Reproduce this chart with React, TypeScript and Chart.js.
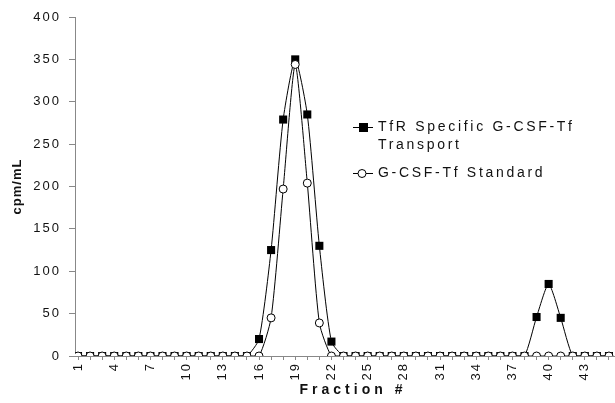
import React, { useEffect, useRef } from "react";
import { Chart, registerables } from "chart.js";

Chart.register(...registerables);

const fractions = [
  1, 2, 3, 4, 5, 6, 7, 8, 9, 10, 11, 12, 13, 14, 15, 16, 17, 18, 19, 20, 21, 22, 23,
  24, 25, 26, 27, 28, 29, 30, 31, 32, 33, 34, 35, 36, 37, 38, 39, 40, 41, 42, 43, 44, 45,
];

const tfrTransport = [
  0, 0, 0, 0, 0, 0, 0, 0, 0, 0, 0, 0, 0, 0, 0, 20, 125, 279, 350, 285, 130, 17, 0,
  0, 0, 0, 0, 0, 0, 0, 0, 0, 0, 0, 0, 0, 0, 0, 46, 85, 45, 0, 0, 0, 0,
];

const gcsfStandard = [
  0, 0, 0, 0, 0, 0, 0, 0, 0, 0, 0, 0, 0, 0, 0, 0, 45, 197, 344, 204, 39, 0, 0,
  0, 0, 0, 0, 0, 0, 0, 0, 0, 0, 0, 0, 0, 0, 0, 0, 0, 0, 0, 0, 0, 0,
];

const xTickLabels = [1, 4, 7, 10, 13, 16, 19, 22, 25, 28, 31, 34, 37, 40, 43];

const legendLabels = ["TfR Specific G-CSF-Tf", "Transport", "G-CSF-Tf Standard"];
const xTitle = "Fraction #";
const yTitle = "cpm/mL";

const FONT = '"Liberation Sans", Arial, Helvetica, sans-serif';

const overlayPlugin = {
  id: "overlay",
  beforeLayout(chart: any) {
    (chart.ctx as any).letterSpacing = "2px";
  },
  beforeDraw(chart: any) {
    (chart.ctx as any).letterSpacing = "2px";
  },
  afterDraw(chart: any) {
    const ctx = chart.ctx as CanvasRenderingContext2D & { letterSpacing: string };
    const area = chart.chartArea;
    ctx.save();
    ctx.fillStyle = "#111";
    ctx.textBaseline = "middle";

    // x title
    ctx.font = `bold 14px ${FONT}`;
    ctx.letterSpacing = "4px";
    ctx.textAlign = "center";
    ctx.fillText(xTitle, (area.left + area.right) / 2 + 8, 390);

    // y title
    ctx.save();
    ctx.translate(17, (area.top + area.bottom) / 2);
    ctx.rotate(-Math.PI / 2);
    ctx.font = `bold 13px ${FONT}`;
    ctx.letterSpacing = "1px";
    ctx.fillText(yTitle, 0, 0);
    ctx.restore();

    // legend
    ctx.font = `14px ${FONT}`;
    ctx.letterSpacing = "2.7px";
    ctx.textAlign = "left";
    ctx.strokeStyle = "#000";
    ctx.lineWidth = 1;

    const y1 = 127;
    ctx.beginPath();
    ctx.moveTo(353, y1 + 0.5);
    ctx.lineTo(373, y1 + 0.5);
    ctx.stroke();
    ctx.fillStyle = "#000";
    ctx.fillRect(359, y1 - 4, 9, 9);
    ctx.fillStyle = "#111";
    ctx.fillText(legendLabels[0], 378, y1);
    ctx.fillText(legendLabels[1], 378, 145);

    const y2 = 173;
    ctx.beginPath();
    ctx.moveTo(353, y2 + 0.5);
    ctx.lineTo(373, y2 + 0.5);
    ctx.stroke();
    ctx.beginPath();
    ctx.arc(362, y2 + 0.5, 4, 0, Math.PI * 2);
    ctx.fillStyle = "#fff";
    ctx.fill();
    ctx.stroke();
    ctx.fillStyle = "#111";
    ctx.fillText(legendLabels[2], 378, y2);

    ctx.restore();
  },
};

export default function App() {
  const canvasRef = useRef<HTMLCanvasElement | null>(null);

  useEffect(() => {
    document.body.style.margin = "0";
    const canvas = canvasRef.current;
    if (!canvas) return;

    const chart = new Chart(canvas, {
      type: "line",
      data: {
        datasets: [
          {
            label: legendLabels[0] + " " + legendLabels[1],
            data: fractions.map((f, i) => ({ x: f, y: tfrTransport[i] })),
            borderColor: "#000",
            borderWidth: 1,
            backgroundColor: "#000",
            pointStyle: "rect",
            pointRadius: 5.7,
            pointBorderWidth: 0,
            pointBackgroundColor: "#000",
            tension: 0.2,
            order: 2,
          },
          {
            label: legendLabels[2],
            data: fractions.map((f, i) => ({ x: f, y: gcsfStandard[i] })),
            borderColor: "#000",
            borderWidth: 1,
            pointStyle: "circle",
            pointRadius: 4,
            pointBorderWidth: 1,
            pointBorderColor: "#000",
            pointBackgroundColor: "#fff",
            tension: 0.2,
            order: 1,
          },
        ],
      },
      options: {
        responsive: false,
        animation: false,
        devicePixelRatio: 1,
        layout: { autoPadding: false, padding: { top: 17, right: 0, left: 0, bottom: 0 } },
        plugins: {
          legend: { display: false },
          tooltip: { enabled: false },
        },
        scales: {
          x: {
            type: "linear",
            min: 0.75,
            max: 45.5,
            afterBuildTicks: (scale: any) => {
              scale.ticks = fractions.map((v) => ({ value: v }));
            },
            afterFit: (scale: any) => {
              scale.height = 47;
              scale.paddingLeft = 0;
              scale.paddingRight = 0;
            },
            grid: {
              display: true,
              drawOnChartArea: false,
              tickLength: 4,
              color: "#888",
            },
            border: { color: "#888", width: 1 },
            ticks: {
              autoSkip: false,
              maxRotation: 90,
              minRotation: 90,
              padding: 2,
              color: "#111",
              font: { family: FONT, size: 13 },
              callback: (value: any) =>
                xTickLabels.includes(Number(value)) ? String(value) : "",
            },
          },
          y: {
            min: 0,
            max: 400,
            afterFit: (scale: any) => {
              scale.width = 75;
            },
            grid: {
              display: true,
              drawOnChartArea: false,
              tickLength: 6,
              color: "#888",
            },
            border: { color: "#888", width: 1 },
            ticks: {
              stepSize: 50,
              padding: 8,
              color: "#111",
              font: { family: FONT, size: 13 },
            },
          },
        },
      },
      plugins: [overlayPlugin],
    });

    return () => {
      chart.destroy();
    };
  }, []);

  return (
    <div style={{ width: 615, height: 403, position: "relative", background: "#fff" }}>
      <canvas ref={canvasRef} width={615} height={403} />
    </div>
  );
}
